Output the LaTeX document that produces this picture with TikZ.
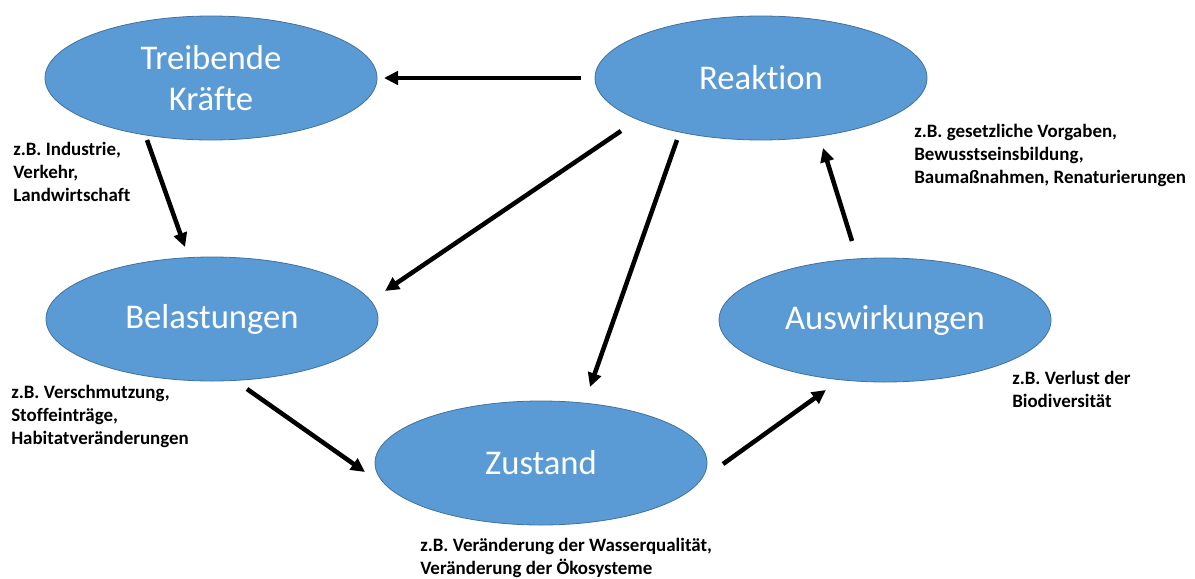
\documentclass[tikz,border=0pt]{standalone}
\usepackage{fontspec}
\setmainfont{Carlito}[Ligatures=NoCommon]
\usetikzlibrary{shapes.geometric,arrows.meta}
\definecolor{stageblue}{RGB}{91,155,213}
\definecolor{stageedge}{RGB}{65,113,156}

\begin{document}
\begin{tikzpicture}[x=0.75pt,y=0.75pt,
  stage/.style={ellipse,fill=stageblue,draw=stageedge,line width=0.6pt,
    minimum width=249pt,minimum height=93pt,inner sep=0pt,outer sep=0pt,
    text=white,align=center,font=\fontsize{26}{31}\selectfont},
  note/.style={anchor=north west,inner sep=0pt,align=left,
    font=\bfseries\fontsize{14.2}{17.25}\selectfont},
  flow/.style={line width=3.4pt,-{Triangle[length=10.5pt,width=10pt]}}]
\useasboundingbox (0,0) rectangle (1195,-578);

% stages
\node[stage] (tk) at (211,-78) {Treibende\\Kräfte};
\node[stage] (re) at (761,-78) {Reaktion};
\node[stage] (be) at (212,-319) {Belastungen};
\node[stage] (zu) at (541,-463) {Zustand};
\node[stage] (au) at (885,-320) {Auswirkungen};

% examples
\node[note] (tknote) at (13,-142) {z.B. Industrie,\\Verkehr,\\Landwirtschaft};
\node[note] (renote) at (914,-124) {z.B. gesetzliche Vorgaben,\\Bewusstseinsbildung,\\Baumaßnahmen, Renaturierungen};
\node[note] (benote) at (11,-385) {z.B. Verschmutzung,\\Stoffeinträge,\\Habitatveränderungen};
\node[note] (zunote) at (420,-538) {z.B. Veränderung der Wasserqualität,\\Veränderung der Ökosysteme};
\node[note] (aunote) at (1012,-371) {z.B. Verlust der\\Biodiversität};

% arrows
\draw[flow] ([shift={(-14,0)}]re.west) -- ([shift={(7,0)}]tk.east);
\draw[flow] ([shift={(-64,0)}]tk.south) -- ([shift={(-27,10)}]be.north);
\draw[flow] ([shift={(-140,9)}]re.south) -- ([shift={(7,28)}]be.east);
\draw[flow] ([shift={(-84,0)}]re.south) -- ([shift={(49,14)}]zu.north);
\draw[flow] ([shift={(35,-8)}]be.south) -- ([shift={(-10,-9)}]zu.west);
\draw[flow] ([shift={(16,-1)}]zu.east) -- ([shift={(-59,-8)}]au.south);
\draw[flow] ([shift={(-33,17)}]au.north) -- ([shift={(62,-8)}]re.south);
\end{tikzpicture}
\end{document}
